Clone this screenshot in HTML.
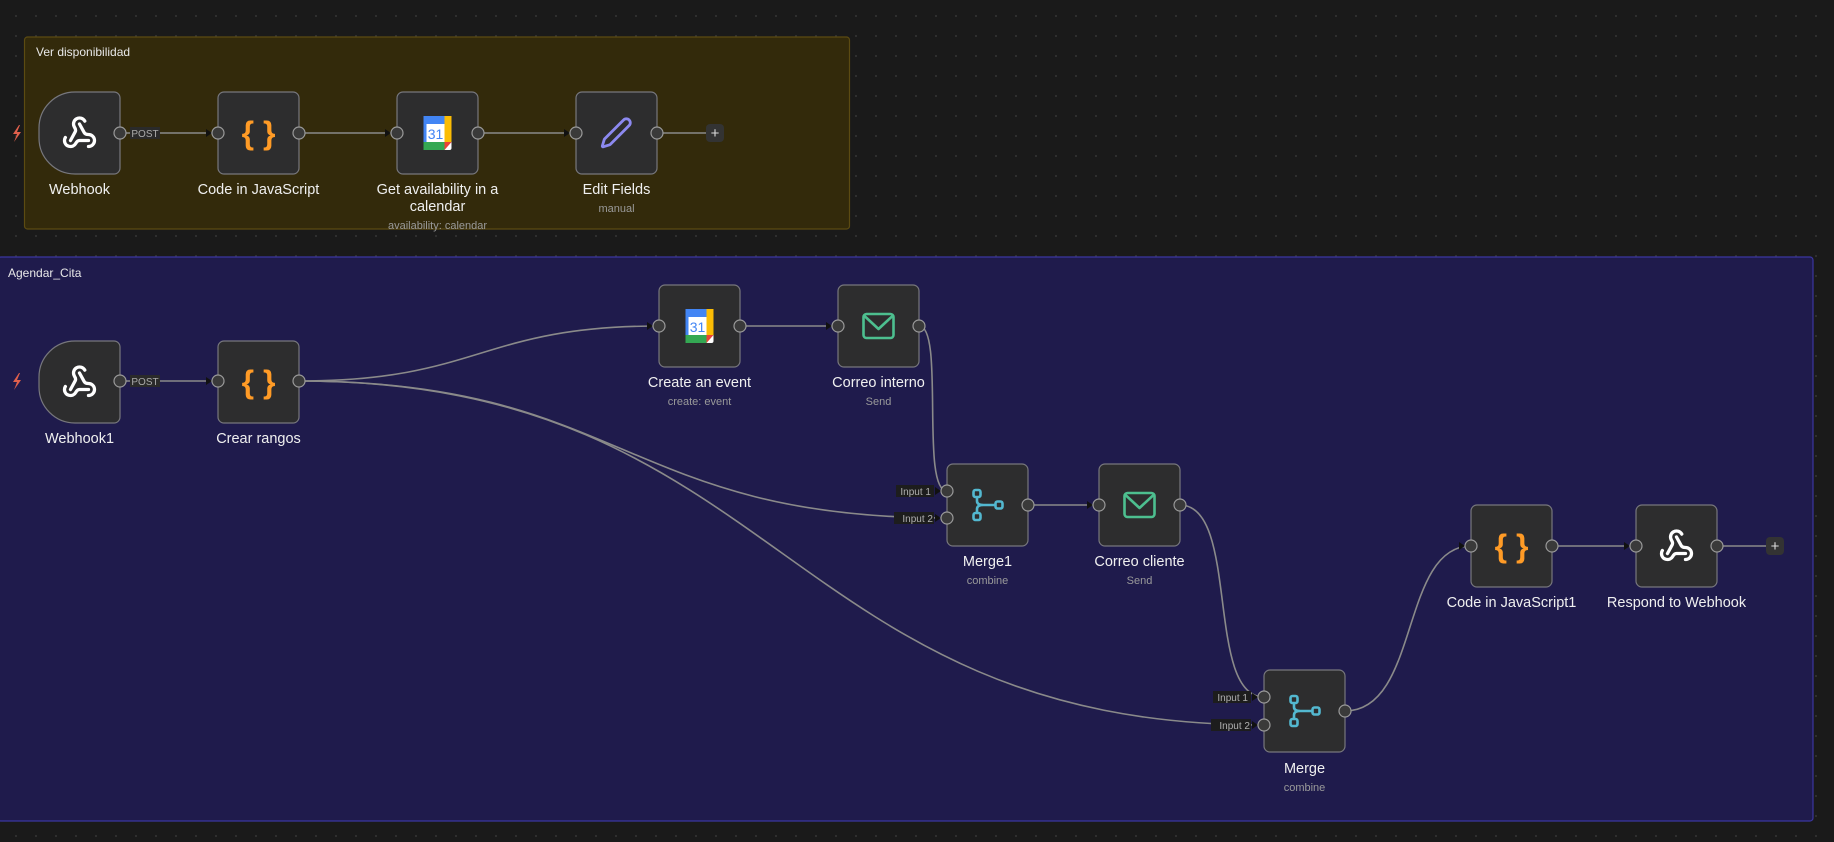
<!DOCTYPE html>
<html><head><meta charset="utf-8"><style>
html,body{margin:0;padding:0;width:1834px;height:842px;overflow:hidden;background:#1a1a1a;}
body{background-image:radial-gradient(circle,#333 0.8px,transparent 1.2px);background-size:20px 20px;background-position:6px 6px;font-family:"Liberation Sans",sans-serif;}
svg{position:absolute;left:0;top:0;}
text{font-family:"Liberation Sans",sans-serif;}
.l{fill:#f0f0f0;font-size:14.5px;text-anchor:middle;}
.s{fill:#9a9a9a;font-size:11px;text-anchor:middle;}
.n{fill:#2d2d2e;stroke:#77777d;stroke-width:1.2;}
.h{fill:#3a3a3a;stroke:#9a9a9a;stroke-width:1.2;}
.e{fill:none;stroke:#8a8a8a;stroke-width:1.6;}
.il{fill:#b0b0b0;font-size:10px;text-anchor:end;}
</style></head><body>
<svg width="1834" height="842" viewBox="0 0 1834 842">
<defs>
<g id="wh"><g transform="translate(-18,-18) scale(1.5)" fill="none" stroke="#fff" stroke-width="2.2" stroke-linecap="round" stroke-linejoin="round"><path d="M18 16.98h-5.99c-1.1 0-1.95.94-2.48 1.9A4 4 0 0 1 2 17c.01-.7.2-1.4.57-2"/><path d="m6 17 3.13-5.78c.53-.97.1-2.18-.5-3.1a4 4 0 1 1 6.89-4.06"/><path d="m12 6 3.13 5.73C15.66 12.7 16.9 13 18 13a4 4 0 0 1 0 8"/></g></g>
<g id="code"><text x="0" y="11" font-size="32" font-weight="bold" fill="#ff9b26" text-anchor="middle" font-family="Liberation Sans,sans-serif">{ }</text></g>
<g id="cal"><rect x="-14" y="-17" width="28" height="34" rx="2" fill="#fff"/><rect x="-14" y="-17" width="21" height="8" fill="#4285f4"/><rect x="7" y="-17" width="7" height="26" fill="#fbbc04"/><rect x="-14" y="9" width="21" height="8" fill="#34a853"/><path d="M7 9h7l-7 8z" fill="#ea4335"/><rect x="-14" y="-9" width="3" height="18" fill="#4285f4"/><text x="-2" y="6" font-size="14" fill="#4285f4" text-anchor="middle">31</text></g>
<g id="pen"><g transform="translate(-17,-17) scale(1.4)" fill="none" stroke="#8c89f0" stroke-width="2" stroke-linejoin="round"><path d="M21.17 6.81a1 1 0 0 0-3.99-3.99L3.84 16.17a2 2 0 0 0-.5.83l-1.32 4.35a.5.5 0 0 0 .62.62l4.35-1.32a2 2 0 0 0 .83-.5z"/></g></g>
<g id="mail"><rect x="-15" y="-12" width="30" height="24" rx="3" fill="none" stroke="#4dbf8f" stroke-width="2.6"/><path d="M-14 -10 L0 3 L14 -10" fill="none" stroke="#4dbf8f" stroke-width="2.6" stroke-linejoin="round"/></g>
<g id="mrg" fill="none" stroke="#53b8d0" stroke-width="2.6"><rect x="-14" y="-15" width="7" height="7" rx="2"/><rect x="-14" y="8" width="7" height="7" rx="2"/><rect x="8" y="-3.5" width="7" height="7" rx="2"/><path d="M-10.5 -8 V-4 Q-10.5 0 -4 0 H8 M-4 0 Q-10.5 0 -10.5 4 V8"/></g>
<path id="arr" d="M-6 -4 L0 0 L-6 4 z" fill="#111"/>
</defs>

<rect x="24.5" y="37" width="825" height="192" rx="3" fill="#332a0b" stroke="#5c4b12" stroke-width="1.2"/>
<text x="36" y="56" fill="#e8e8e8" font-size="12">Ver disponibilidad</text>
<rect x="-2" y="257" width="1815" height="564" rx="3" fill="#1f1b4c" stroke="#3b36a0" stroke-width="1.2"/>
<text x="8" y="277" fill="#e8e8e8" font-size="12">Agendar_Cita</text>

<path d="M19 125 l-6 9 h4 l-3 8 l7 -10 h-4 l3 -7z" fill="#e0604c"/>
<path d="M19 373 l-6 9 h4 l-3 8 l7 -10 h-4 l3 -7z" fill="#e0604c"/>

<path class="e" d="M120 133 H218"/><path class="e" d="M299 133 H397"/><path class="e" d="M478 133 H576"/><path class="e" d="M657 133 H706"/>
<path class="e" d="M120 381 H218"/>
<path class="e" d="M299 381 C480 381 480 326 659 326"/>
<path class="e" d="M299 381 C623 381 623 518 947 518"/>
<path class="e" d="M299 381 C782 381 782 725 1264 725"/>
<path class="e" d="M740 326 H838"/>
<path class="e" d="M919 326 C945 326 920 491 947 491"/>
<path class="e" d="M1029 505 H1099"/>
<path class="e" d="M1180 505 C1240 505 1205 697 1264 697"/>
<path class="e" d="M1345 711 C1420 711 1400 546 1471 546"/>
<path class="e" d="M1552 546 H1636"/><path class="e" d="M1717 546 H1766"/>
<use href="#arr" x="212" y="133"/><use href="#arr" x="391" y="133"/><use href="#arr" x="570" y="133"/>
<use href="#arr" x="212" y="381"/><use href="#arr" x="653" y="326"/><use href="#arr" x="832" y="326"/>
<use href="#arr" x="941" y="491"/><use href="#arr" x="941" y="518"/><use href="#arr" x="1093" y="505"/>
<use href="#arr" x="1258" y="697"/><use href="#arr" x="1258" y="725"/><use href="#arr" x="1465" y="546"/><use href="#arr" x="1630" y="546"/>

<rect x="130" y="127" width="30" height="12" fill="#2a2a2a"/><text x="145" y="137" fill="#aaa" font-size="10" text-anchor="middle">POST</text>
<rect x="130" y="375" width="30" height="12" fill="#2a2a2a"/><text x="145" y="385" fill="#aaa" font-size="10" text-anchor="middle">POST</text>
<rect x="896" y="485" width="38" height="12" fill="#1d1d1d"/><text class="il" x="931" y="495">Input 1</text>
<rect x="894" y="512" width="40" height="12" fill="#1d1d1d"/><text class="il" x="933" y="522">Input 2</text>
<rect x="1213" y="691" width="38" height="12" fill="#1d1d1d"/><text class="il" x="1248" y="701">Input 1</text>
<rect x="1211" y="719" width="40" height="12" fill="#1d1d1d"/><text class="il" x="1250" y="729">Input 2</text>

<rect x="706" y="124" width="18" height="18" rx="4" fill="#333"/><text x="715" y="138" fill="#ddd" font-size="15" text-anchor="middle">+</text>
<rect x="1766" y="537" width="18" height="18" rx="4" fill="#333"/><text x="1775" y="551" fill="#ddd" font-size="15" text-anchor="middle">+</text>

<path class="n" d="M75 92 H114 a6 6 0 0 1 6 6 V168 a6 6 0 0 1 -6 6 H75 A36 36 0 0 1 39 138 V128 A36 36 0 0 1 75 92 Z"/>
<use href="#wh" x="79.5" y="133"/>
<rect class="n" x="218" y="92" width="81" height="82" rx="6"/><use href="#code" x="258.5" y="133"/>
<rect class="n" x="397" y="92" width="81" height="82" rx="6"/><use href="#cal" x="437.5" y="133"/>
<rect class="n" x="576" y="92" width="81" height="82" rx="6"/><use href="#pen" x="616.5" y="133"/>

<path class="n" d="M75 341 H114 a6 6 0 0 1 6 6 V417 a6 6 0 0 1 -6 6 H75 A36 36 0 0 1 39 387 V377 A36 36 0 0 1 75 341 Z"/>
<use href="#wh" x="79.5" y="382"/>
<rect class="n" x="218" y="341" width="81" height="82" rx="6"/><use href="#code" x="258.5" y="382"/>
<rect class="n" x="659" y="285" width="81" height="82" rx="6"/><use href="#cal" x="699.5" y="326"/>
<rect class="n" x="838" y="285" width="81" height="82" rx="6"/><use href="#mail" x="878.5" y="326"/>
<rect class="n" x="947" y="464" width="81" height="82" rx="6"/><use href="#mrg" x="987.5" y="505"/>
<rect class="n" x="1099" y="464" width="81" height="82" rx="6"/><use href="#mail" x="1139.5" y="505"/>
<rect class="n" x="1471" y="505" width="81" height="82" rx="6"/><use href="#code" x="1511.5" y="546"/>
<rect class="n" x="1636" y="505" width="81" height="82" rx="6"/><use href="#wh" x="1676.5" y="546"/>
<rect class="n" x="1264" y="670" width="81" height="82" rx="6"/><use href="#mrg" x="1304.5" y="711"/>

<g class="h">
<circle cx="120" cy="133" r="6"/><circle cx="218" cy="133" r="6"/><circle cx="299" cy="133" r="6"/><circle cx="397" cy="133" r="6"/><circle cx="478" cy="133" r="6"/><circle cx="576" cy="133" r="6"/><circle cx="657" cy="133" r="6"/>
<circle cx="120" cy="381" r="6"/><circle cx="218" cy="381" r="6"/><circle cx="299" cy="381" r="6"/>
<circle cx="659" cy="326" r="6"/><circle cx="740" cy="326" r="6"/><circle cx="838" cy="326" r="6"/><circle cx="919" cy="326" r="6"/>
<circle cx="947" cy="491" r="6"/><circle cx="947" cy="518" r="6"/><circle cx="1028" cy="505" r="6"/>
<circle cx="1099" cy="505" r="6"/><circle cx="1180" cy="505" r="6"/>
<circle cx="1264" cy="697" r="6"/><circle cx="1264" cy="725" r="6"/><circle cx="1345" cy="711" r="6"/>
<circle cx="1471" cy="546" r="6"/><circle cx="1552" cy="546" r="6"/><circle cx="1636" cy="546" r="6"/><circle cx="1717" cy="546" r="6"/>
</g>

<text class="l" x="79.5" y="194">Webhook</text>
<text class="l" x="258.5" y="194">Code in JavaScript</text>
<text class="l" x="437.5" y="194">Get availability in a</text>
<text class="l" x="437.5" y="211">calendar</text>
<text class="s" x="437.5" y="229">availability: calendar</text>
<text class="l" x="616.5" y="194">Edit Fields</text>
<text class="s" x="616.5" y="212">manual</text>

<text class="l" x="79.5" y="443">Webhook1</text>
<text class="l" x="258.5" y="443">Crear rangos</text>
<text class="l" x="699.5" y="387">Create an event</text>
<text class="s" x="699.5" y="405">create: event</text>
<text class="l" x="878.5" y="387">Correo interno</text>
<text class="s" x="878.5" y="405">Send</text>
<text class="l" x="987.5" y="566">Merge1</text>
<text class="s" x="987.5" y="584">combine</text>
<text class="l" x="1139.5" y="566">Correo cliente</text>
<text class="s" x="1139.5" y="584">Send</text>
<text class="l" x="1511.5" y="607">Code in JavaScript1</text>
<text class="l" x="1676.5" y="607">Respond to Webhook</text>
<text class="l" x="1304.5" y="773">Merge</text>
<text class="s" x="1304.5" y="791">combine</text>
</svg>
</body></html>
